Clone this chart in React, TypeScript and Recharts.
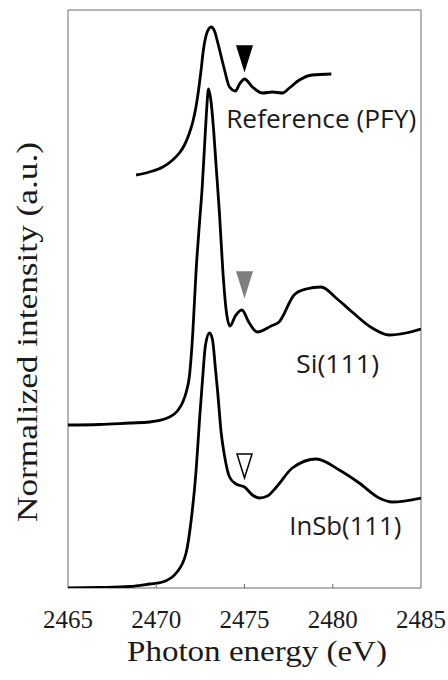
import { LineChart, Line, XAxis, YAxis, ReferenceArea, ReferenceDot, Label } from "recharts";

// spectra are stacked with vertical offsets (arbitrary units, 0 = bottom of frame)
const pfyEnergy = [2468.86, 2469.61, 2470.37, 2470.93, 2471.31, 2471.6, 2471.88, 2472.07, 2472.26, 2472.39, 2472.54, 2472.67, 2472.83, 2472.97, 2473.11, 2473.3, 2473.49, 2473.87, 2474.15, 2474.49, 2474.72, 2475.0, 2475.45, 2476.01, 2476.58, 2477.15, 2477.54, 2478.11, 2478.84, 2479.92];
const pfyIntensity = [413, 416, 421, 428, 435, 443, 455, 466, 482, 497, 518, 538, 553, 559, 561, 557, 545, 518, 501, 497, 504, 509, 501, 495, 496, 495, 500, 508, 513, 514];

const siEnergy = [2465, 2466.79, 2468.49, 2469.62, 2470.75, 2471.2, 2471.48, 2471.7, 2471.88, 2472.07, 2472.26, 2472.45, 2472.6, 2472.73, 2472.84, 2472.96, 2473.1, 2473.25, 2473.4, 2473.58, 2473.77, 2473.96, 2474.18, 2474.48, 2474.85, 2475.27, 2475.72, 2476.51, 2476.96, 2477.81, 2478.49, 2479.34, 2480.19, 2481.1, 2482.23, 2483.19, 2484.15, 2485];
const siIntensity = [163, 163.5, 165, 166, 171, 177, 185, 196, 212, 255, 318, 365, 400, 440, 474, 499, 487, 458, 420, 375, 318, 278, 262, 272, 278, 265, 256, 262, 266, 293, 299, 301, 290, 276, 260, 253, 255, 259];

const insbEnergy = [2465, 2466.79, 2468.49, 2469.62, 2470.36, 2471.13, 2471.69, 2471.98, 2472.26, 2472.45, 2472.62, 2472.79, 2473.02, 2473.19, 2473.36, 2473.47, 2473.68, 2473.86, 2474.15, 2474.52, 2475.0, 2475.45, 2475.85, 2476.3, 2476.81, 2477.71, 2479.07, 2480.37, 2481.5, 2482.63, 2483.37, 2485];
const insbIntensity = [0, 0.5, 1.5, 4, 6, 15, 35, 68, 118, 168, 208, 243, 255, 248, 218, 198, 155, 133, 111, 104, 101, 93, 90, 92, 101, 120, 129, 118, 105, 90, 86, 90];

const xTicks = [2465, 2470, 2475, 2480, 2485];

// curve labels and the triangle markers above the 2475 eV feature
const curveLabels = [
  { text: "Reference (PFY)", e: 2473.96, v: 460, len: 190 },
  { text: "Si(111)", e: 2477.92, v: 215, len: 83 },
  { text: "InSb(111)", e: 2477.54, v: 53, len: 112 },
];
const markers = [
  { e: 2475, v: 530, fill: "#000000" },
  { e: 2475, v: 304, fill: "#7f7f7f" },
  { e: 2475, v: 122, fill: "#ffffff" },
];

const zip = (es: number[], vs: number[]) => es.map((e, i) => ({ e, v: vs[i] }));
const pfyData = zip(pfyEnergy, pfyIntensity);
const siData = zip(siEnergy, siIntensity);
const insbData = zip(insbEnergy, insbIntensity);

if (typeof document !== "undefined") document.body.style.margin = "0";

const serif = "'Liberation Serif', 'Times New Roman', serif";
const sans = "'Open Sans', 'Noto Sans', sans-serif";

const EnergyTick = (props: any) => {
  const { x, y, payload } = props;
  const inner = payload.value !== 2465 && payload.value !== 2485;
  return (
    <g>
      {inner && <line x1={x} x2={x} y1={y} y2={y - 4} stroke="#6b6b6b" strokeWidth={1} />}
      <text x={x} y={y + 40} textAnchor="middle" style={{ fontFamily: serif, fontSize: 25 }} fill="#1a1a1a">
        {payload.value}
      </text>
    </g>
  );
};

const Triangle = (props: any) => {
  const { cx, cy, fill } = props;
  const w = 7.5, h = 12;
  return (
    <path
      d={`M${cx - w},${cy - h} L${cx + w},${cy - h} L${cx},${cy + h} Z`}
      fill={fill}
      stroke={fill === "#ffffff" ? "#000000" : fill}
      strokeWidth={1.5}
    />
  );
};

const CurveLabel = (props: any) => {
  const { cx, cy, text, len } = props;
  return (
    <text x={cx} y={cy} style={{ fontFamily: sans, fontSize: 25 }} fill="#1a1a1a" textLength={len} lengthAdjust="spacingAndGlyphs">
      {text}
    </text>
  );
};

export default function App() {
  return (
    <div style={{ width: 448, height: 680, background: "#fff" }}>
      <LineChart width={448} height={680} data={siData} margin={{ top: 10, right: 27, left: 0, bottom: 0 }}>
        <XAxis
          dataKey="e"
          type="number"
          domain={[2465, 2485]}
          ticks={xTicks}
          axisLine={false}
          tickLine={false}
          tickSize={0}
          tickMargin={0}
          height={92}
          tick={EnergyTick}
          allowDataOverflow
        >
          <Label
            content={() => (
              <text x={257} y={661} textAnchor="middle" style={{ fontFamily: serif, fontSize: 29 }} fill="#1a1a1a" textLength={260} lengthAdjust="spacingAndGlyphs">
                Photon energy (eV)
              </text>
            )}
          />
        </XAxis>
        <YAxis type="number" domain={[0, 578]} width={68} tick={false} axisLine={false} tickLine={false} allowDataOverflow>
          <Label
            content={() => (
              <text x={37} y={332} transform="rotate(-90 37 332)" textAnchor="middle" style={{ fontFamily: serif, fontSize: 29 }} fill="#1a1a1a" textLength={380} lengthAdjust="spacingAndGlyphs">
                Normalized intensity (a.u.)
              </text>
            )}
          />
        </YAxis>
        <ReferenceArea x1={2465} x2={2485} y1={0} y2={578} fill="none" stroke="#6b6b6b" strokeWidth={1} ifOverflow="visible" />
        <Line data={pfyData} dataKey="v" type="monotone" stroke="#000" strokeWidth={2.8} dot={false} isAnimationActive={false} />
        <Line data={siData} dataKey="v" type="monotone" stroke="#000" strokeWidth={2.8} dot={false} isAnimationActive={false} />
        <Line data={insbData} dataKey="v" type="monotone" stroke="#000" strokeWidth={2.8} dot={false} isAnimationActive={false} />
        {markers.map((m, i) => (
          <ReferenceDot key={"m" + i} x={m.e} y={m.v} r={0} ifOverflow="visible" shape={(p: any) => <Triangle {...p} fill={m.fill} />} />
        ))}
        {curveLabels.map((c) => (
          <ReferenceDot key={c.text} x={c.e} y={c.v} r={0} ifOverflow="visible" shape={(p: any) => <CurveLabel {...p} text={c.text} len={c.len} />} />
        ))}
      </LineChart>
    </div>
  );
}
